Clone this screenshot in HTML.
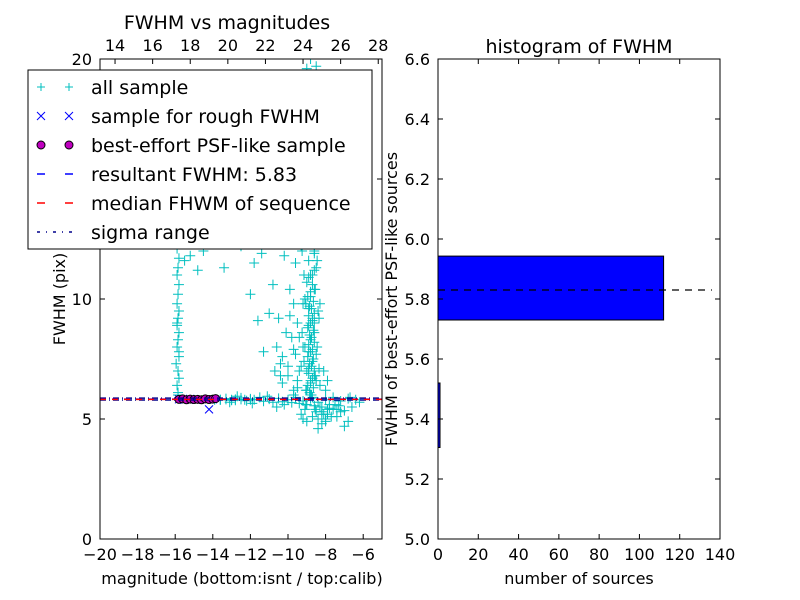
<!DOCTYPE html>
<html><head><meta charset="utf-8"><style>
html,body{margin:0;padding:0;background:#fff;}
svg{display:block;font-family:"DejaVu Sans","Liberation Sans",sans-serif;}
</style></head><body>
<svg id="c" width="800" height="600"></svg>
<script>
// ---- data: scatter (left panel) ----
const stripMag=[-15.85,-15.9,-15.8,-15.85,-15.95,-15.8,-15.9,-15.85,-15.8,-15.9,-15.85,-15.8,-15.9,-15.85,-15.8,-15.9,-15.85,-15.8,-15.9,-15.85,-15.8,-15.9,-15.2,-14.5,-13.4,-14.8,-12.5,-15.5];
const stripFwhm=[6.1,6.4,6.7,7.0,7.3,7.6,8.0,8.3,8.6,8.9,9.2,9.5,9.8,10.2,10.6,11.0,11.3,11.7,12.1,6.0,7.8,9.0,11.8,12.0,11.3,11.2,12.2,11.6];
const bandMag=[-13.6,-13.3,-13.0,-12.8,-12.5,-12.2,-12.0,-11.8,-11.5,-11.3,-11.0,-10.8,-10.5,-10.3,-10.0,-9.8,-9.6,-9.4,-9.2,-9.0,-8.8,-8.6,-8.4,-8.2,-8.0,-7.8,-7.6,-7.4,-7.2,-7.0,-6.8,-6.6,-6.4,-6.2,-12.7,-11.9,-11.1,-10.2,-9.7,-9.1,-8.5,-7.9,-7.3,-6.7,-13.1,-10.6,-8.7,-7.5];
const bandFwhm=[5.8,5.85,5.78,5.82,5.88,5.76,5.84,5.8,5.9,5.74,5.83,5.7,5.86,5.72,5.8,5.68,5.9,5.65,5.75,5.6,5.85,5.55,5.7,5.5,5.8,5.45,5.9,5.4,5.75,5.35,5.85,5.5,5.8,5.7,5.95,5.65,5.95,5.6,6.0,5.4,5.3,5.2,5.55,5.9,5.7,5.5,5.1,5.6];
const cloudMag=[-9.0,-8.8,-8.6,-8.9,-8.7,-8.5,-9.1,-8.8,-8.6,-8.9,-8.7,-8.4,-9.2,-8.8,-8.6,-9.0,-8.7,-8.5,-8.9,-8.6,-9.3,-8.8,-8.7,-9.0,-8.5,-8.9,-8.6,-9.1,-8.8,-8.7,-9.4,-8.6,-8.9,-8.8,-9.0,-8.7,-9.5,-9.7,-9.9,-10.1,-10.3,-10.5,-9.6,-9.8,-10.0,-10.2,-10.6,-10.8,-11.0,-11.3,-11.6,-9.5,-9.3,-9.2,-10.4,-10.7,-9.7,-9.4,-8.3,-8.1,-8.0,-7.8,-8.2,-7.6,-8.4,-8.0,-7.4,-7.2,-7.0,-6.8,-7.9,-8.3,-9.6,-10.9,-11.4,-11.8,-12.0,-10.2,-9.9,-9.3,-9.0,-8.8,-8.5,-9.1,-9.4,-10.0,-9.2,-8.7,-9.6,-10.5];
const cloudFwhm=[6.2,6.5,6.8,7.1,7.4,7.7,8.0,8.3,8.6,8.9,9.2,9.5,9.8,10.1,10.4,10.7,11.0,11.3,11.6,11.9,12.2,12.6,13.0,7.0,6.6,7.8,9.0,10.0,6.0,5.9,8.4,12.0,9.6,11.0,13.4,13.8,9.0,9.8,10.4,8.6,7.6,9.2,11.5,12.4,7.2,11.8,8.0,10.6,9.4,7.8,9.1,6.6,7.2,8.0,6.8,7.0,6.2,12.8,6.4,7.0,6.2,5.6,5.2,5.4,5.0,4.9,5.1,5.3,4.7,4.9,6.6,9.8,14.4,13.2,11.9,11.5,10.2,15.6,16.8,18.2,19.6,20.0,19.7,17.4,14.9,13.0,16.2,15.0,14.0,12.8];
const coreMag=[-8.75,-8.85,-8.65,-8.95,-8.8,-8.7,-8.9,-8.6,-8.75,-8.85,-8.65,-8.95,-8.8,-8.7,-8.9,-8.6,-8.75,-8.85,-8.65,-8.95,-8.8,-8.7,-8.9,-8.6,-8.75,-8.85,-8.65,-8.95,-8.8,-8.7,-8.9,-8.6,-9.05,-8.55,-9.15,-8.45,-9.25,-8.35,-9.05,-8.55,-9.15,-8.45,-9.25,-8.35,-9.05,-8.55,-8.3,-8.2,-8.1,-7.9,-7.7,-8.0,-8.2,-8.4,-9.3,-9.5,-9.4,-9.6,-9.8,-10.0,-9.7,-9.9,-10.3,-10.4,-9.2,-9.0];
const coreFwhm=[6.0,6.1,6.3,6.4,6.6,6.7,6.9,7.0,7.2,7.3,7.5,7.6,7.8,7.9,8.1,8.2,8.4,8.5,8.7,8.8,9.0,9.1,9.3,9.4,9.6,9.7,9.9,10.1,10.3,10.6,10.9,11.2,6.2,6.8,7.4,8.0,8.6,9.2,9.8,10.4,11.0,11.6,12.0,7.1,5.6,5.4,5.5,5.3,5.2,5.4,5.1,5.0,4.8,4.6,5.2,6.3,7.0,7.7,8.4,6.8,7.9,9.3,6.5,7.3,5.0,4.9];
const rowMag=[-13.9,-13.6,-13.3,-13.0,-12.8,-12.5,-12.3,-12.0];
const rowFwhm=[5.8,5.8,5.82,5.8,5.78,5.82,5.8,5.8];
const roughMag=[-15.8,-15.5,-15.2,-14.9,-14.6,-14.3,-14.2,-14.0];
const roughFwhm=[5.82,5.8,5.84,5.8,5.83,5.81,5.4,5.82];
const psfMag=[-15.8,-15.6,-15.4,-15.2,-15.0,-14.8,-14.6,-14.4,-14.2,-14.0,-13.85];
const psfFwhm=[5.82,5.84,5.8,5.83,5.81,5.82,5.8,5.84,5.81,5.83,5.85];
const resultantFwhm=5.83, medianFwhm=5.82, sigmaLo=5.79, sigmaHi=5.87;
const xTicksB=[-20,-18,-16,-14,-12,-10,-8,-6];
const xTicksT=[14,16,18,20,22,24,26,28];
const yTicksL=[0,5,10,15,20];
// ---- data: histogram (right panel) ----
const binLo=[5.73,5.305];
const binHi=[5.943,5.52];
const binCount=[112,1];
const yTicksR=[5.0,5.2,5.4,5.6,5.8,6.0,6.2,6.4,6.6];
const xTicksR=[0,20,40,60,80,100,120,140];

const NS='http://www.w3.org/2000/svg';
const svg=document.getElementById('c');
function el(t,a,p){const e=document.createElementNS(NS,t);for(const k in a)e.setAttribute(k,a[k]);(p||svg).appendChild(e);return e;}
function tx(s,a,p){const e=el('text',a,p);e.textContent=s;return e;}
const L={x0:100,x1:382,y0:59,y1:539};
const xL=v=>L.x0+(v+20)/15*(L.x1-L.x0);
const xLt=v=>xL(v-33.2);
const yL=v=>L.y1-v/20*(L.y1-L.y0);
const gL=el('g',{});


el('rect',{x:L.x0,y:L.y0,width:L.x1-L.x0,height:L.y1-L.y0,fill:'#fff'},gL);
const clip=el('clipPath',{id:'cl'});el('rect',{x:L.x0,y:L.y0,width:L.x1-L.x0,height:L.y1-L.y0},clip);
const pg=el('g',{'clip-path':'url(#cl)'},gL);
function plus(x,y,col,g,n){const p=el('path',{d:`M${x-5},${y}h10M${x},${y-5}v10`,stroke:col,'stroke-width':1,fill:'none'},g);}
function drawPlus(mags,fw,n){for(let i=0;i<mags.length;i++)plus(xL(mags[i]),yL(fw[i]),'#00bfbf',pg,n);}
drawPlus(stripMag,stripFwhm,'all-sample-point');
drawPlus(bandMag,bandFwhm,'all-sample-point');
drawPlus(cloudMag,cloudFwhm,'all-sample-point');
drawPlus(coreMag,coreFwhm,'all-sample-point');
drawPlus(rowMag,rowFwhm,'all-sample-point');
for(let i=0;i<roughMag.length;i++){const x=xL(roughMag[i]),y=yL(roughFwhm[i]);const p=el('path',{d:`M${x-4},${y-4}l8,8M${x-4},${y+4}l8,-8`,stroke:'#0000ff','stroke-width':1},pg);}
for(let i=0;i<psfMag.length;i++){const c=el('circle',{cx:xL(psfMag[i]),cy:yL(psfFwhm[i]),r:4,fill:'#bf00bf',stroke:'#000','stroke-width':1},pg);}
function hline(v,col,dash,n){const l=el('line',{x1:L.x0,x2:L.x1,y1:yL(v),y2:yL(v),stroke:col,'stroke-width':1.5,'stroke-dasharray':dash},pg);}
hline(sigmaLo,'#00008b','6,3,1,3','sigma-low-line');hline(sigmaHi,'#00008b','6,3,1,3','sigma-high-line');
hline(resultantFwhm,'#0000ff','6,6','resultant-fwhm-line');hline(medianFwhm,'#ff0000','6,6','median-fwhm-line');
el('rect',{x:L.x0,y:L.y0,width:L.x1-L.x0,height:L.y1-L.y0,fill:'none',stroke:'#000','stroke-width':1},gL);
xTicksB.forEach(v=>{const x=xL(v);el('line',{x1:x,x2:x,y1:L.y1,y2:L.y1-5,stroke:'#000'},gL);const t=tx('\u2212'+Math.abs(v),{x:x,y:L.y1+21,'font-size':16,'text-anchor':'middle'},gL);});
xTicksT.forEach(v=>{const x=xLt(v);el('line',{x1:x,x2:x,y1:L.y0,y2:L.y0+5,stroke:'#000'},gL);const t=tx(String(v),{x:x,y:L.y0-8,'font-size':16,'text-anchor':'middle'},gL);});
yTicksL.forEach(v=>{const y=yL(v);el('line',{x1:L.x0,x2:L.x0+5,y1:y,y2:y,stroke:'#000'},gL);el('line',{x1:L.x1,x2:L.x1-5,y1:y,y2:y,stroke:'#000'},gL);const t=tx(String(v),{x:L.x0-8,y:y+6,'font-size':16,'text-anchor':'end'},gL);});
let t;
t=tx('FWHM vs magnitudes',{x:227,y:29,'font-size':19,'text-anchor':'middle'});
t=tx('magnitude (bottom:isnt / top:calib)',{x:242,y:584,'font-size':16,'text-anchor':'middle'});
t=tx('FWHM (pix)',{x:65,y:299,'font-size':16,'text-anchor':'middle',transform:'rotate(-90 65 299)'});
const lg=el('g',{});
el('rect',{x:28,y:70,width:344,height:179,fill:'#fff',stroke:'#000','stroke-width':1},lg);
const ents=['all sample','sample for rough FWHM','best-effort PSF-like sample','resultant FWHM: 5.83','median FHWM of sequence','sigma range'];
ents.forEach((s,i)=>{const y=87+i*29;const sx=[41,69];
 if(i==0)sx.forEach(x=>el('path',{d:`M${x-4},${y}h8M${x},${y-4}v8`,stroke:'#00bfbf'},lg));
 if(i==1)sx.forEach(x=>el('path',{d:`M${x-4},${y-4}l8,8M${x-4},${y+4}l8,-8`,stroke:'#0000ff'},lg));
 if(i==2)sx.forEach(x=>el('circle',{cx:x,cy:y,r:4,fill:'#bf00bf',stroke:'#000'},lg));
 if(i==3)el('line',{x1:37,x2:74,y1:y,y2:y,stroke:'#0000ff','stroke-width':1.5,'stroke-dasharray':'8,20'},lg);
 if(i==4)el('line',{x1:37,x2:74,y1:y,y2:y,stroke:'#ff0000','stroke-width':1.5,'stroke-dasharray':'8,20'},lg);
 if(i==5)el('line',{x1:37,x2:74,y1:y,y2:y,stroke:'#00008b','stroke-width':1.5,'stroke-dasharray':'3,6,1,6'},lg);
 const e=tx(s,{x:91,y:y+7,'font-size':19},lg);});
const R={x0:438,x1:720,y0:59,y1:539};
const xR=v=>R.x0+v/140*(R.x1-R.x0);
const yR=v=>R.y1-(v-5)/1.6*(R.y1-R.y0);
const gR=el('g',{});
for(let i=0;i<binCount.length;i++){const b=el('rect',{x:xR(0),y:yR(binHi[i]),width:Math.max(xR(binCount[i])-xR(0),2),height:yR(binLo[i])-yR(binHi[i]),fill:'#0000ff',stroke:'#000','stroke-width':1},gR);}
const dl=el('line',{x1:xR(0),x2:xR(136),y1:yR(resultantFwhm),y2:yR(resultantFwhm),stroke:'#000','stroke-width':1.2,'stroke-dasharray':'7,6'},gR);
el('rect',{x:R.x0,y:R.y0,width:R.x1-R.x0,height:R.y1-R.y0,fill:'none',stroke:'#000'},gR);
xTicksR.forEach(v=>{const x=xR(v);el('line',{x1:x,x2:x,y1:R.y1,y2:R.y1-5,stroke:'#000'},gR);el('line',{x1:x,x2:x,y1:R.y0,y2:R.y0+5,stroke:'#000'},gR);const e=tx(String(v),{x:x,y:R.y1+21,'font-size':16,'text-anchor':'middle'},gR);});
yTicksR.forEach(v=>{const y=yR(v);el('line',{x1:R.x0,x2:R.x0+5,y1:y,y2:y,stroke:'#000'},gR);el('line',{x1:R.x1,x2:R.x1-5,y1:y,y2:y,stroke:'#000'},gR);const e=tx(v.toFixed(1),{x:R.x0-8,y:y+6,'font-size':16,'text-anchor':'end'},gR);});
t=tx('histogram of FWHM',{x:579,y:53,'font-size':19,'text-anchor':'middle'});
t=tx('number of sources',{x:579,y:584,'font-size':16,'text-anchor':'middle'});
t=tx('FWHM of best-effort PSF-like sources',{x:397,y:299,'font-size':16,'text-anchor':'middle',transform:'rotate(-90 397 299)'});
</script>
</body></html>
